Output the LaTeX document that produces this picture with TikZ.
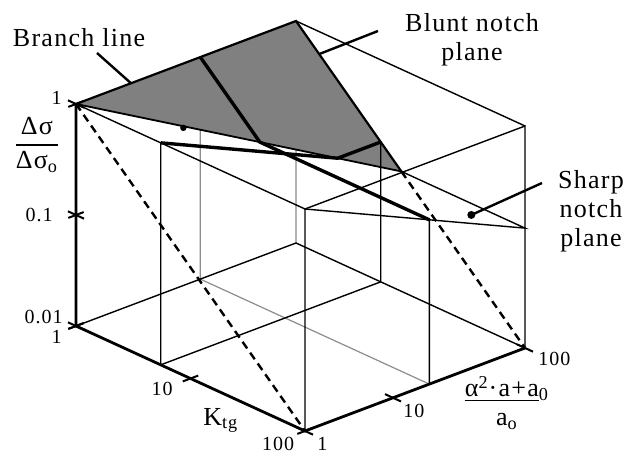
\documentclass[tikz,border=0pt]{standalone}
\usepackage{amsmath}
\usepackage{fontspec}
\setmainfont{Liberation Serif}[LetterSpace=5]
\usepackage{tikz}
\usetikzlibrary{calc}
\newcommand{\sharpk}{0.46}
\newcommand{\kcut}{0.74}
\newcommand{\acut}{1.13}

\begin{document}
\begin{tikzpicture}[
    x={(57.25pt,-26.25pt)}, y={(55pt,20.75pt)}, z={(0pt,55.5pt)},
    axis/.style={line width=1.4pt},
    edge/.style={line width=0.7pt},
    hidden/.style={line width=0.6pt, black!45},
    cut/.style={line width=1.7pt},
    diag/.style={line width=1.2pt, dash pattern=on 4pt off 2.6pt},
    axtick/.style={line width=1pt},
    lead/.style={line width=1.2pt},
    lbl/.style={inner sep=0pt, font=\fontsize{13}{14.5}\selectfont},
    num/.style={inner sep=0pt, font=\fontsize{10}{12}\selectfont},
]
\useasboundingbox (-38pt,-64pt) rectangle (274pt,163pt);

% Box corners
\coordinate (O) at (0,0,0);
\coordinate (P) at (2,0,0);
\coordinate (Q) at (2,2,0);
\coordinate (R) at (0,2,0);
\coordinate (A) at (0,0,2);
\coordinate (D) at (2,0,2);
\coordinate (F) at (2,2,2);
\coordinate (B) at (0,2,2);

% Sharp notch plane and branch point
\coordinate (E) at (2,2,{2-2*\sharpk});
\coordinate (C) at ({2*\sharpk},2,{2-2*\sharpk});

% Cut at constant a
\coordinate (a0) at (0,\acut,0);
\coordinate (a1) at (0,\acut,2);
\coordinate (a2) at ({\sharpk*\acut},\acut,{2-\sharpk*\acut});
\coordinate (a3) at (2,\acut,{2-\sharpk*\acut});
\coordinate (a4) at (2,\acut,0);

% Cut at constant K
\coordinate (k0) at (\kcut,0,0);
\coordinate (k1) at (\kcut,0,2);
\coordinate (k2) at (\kcut,{\kcut/\sharpk},{2-\kcut});
\coordinate (k3) at (\kcut,2,{2-\kcut});
\coordinate (k4) at (\kcut,2,0);

% Hidden lines
\draw[hidden] (R) -- (B) (a0) -- (a1) (a0) -- (a4);

% Blunt notch plane
\fill[black!50] (A) -- (B) -- (C) -- cycle;

% Box edges and sharp notch plane
\draw[edge] (O) -- (R) -- (Q) -- (F) -- (D) -- (A);
\draw[edge] (B) -- (F) (D) -- (P) (D) -- (E) -- (C);
\draw[edge] (k0) -- (k1) (k0) -- (k4) -- (k3) (a4) -- (a3);
\draw[line width=1.1pt] (A) -- (B) -- (C);
\draw[line width=0.9pt] (A) -- (C);

% Cuts
\draw[cut] (a1) -- (a2) -- (a3);
\draw[cut] (k1) -- (k2) -- (k3);

% Diagonals
\draw[diag] (A) -- (P) (C) -- (Q);

% Axes
\draw[axis] (A) -- (O) -- (P) -- (Q);
\foreach \sv in {0,1,2}
    \draw[axtick] (-0.07,0,\sv) -- (0.07,0,\sv) (0,-0.07,\sv) -- (0,0.07,\sv);
\foreach \kv in {0,1,2}
    \draw[axtick] (\kv,-0.07,0) -- (\kv,0.07,0);
\foreach \av in {0,0.8,2}
    \draw[axtick] (1.93,\av,0) -- (2.07,\av,0);

% Leaders
\coordinate (brEnd) at (10.5pt,136.5pt);
\coordinate (blEnd) at (151pt,147.5pt);
\coordinate (shEnd) at (233pt,71.5pt);
\coordinate (brDot) at ($(A)!0.33!(C)$);
\coordinate (shDot) at (1.8,1.72,{2-\sharpk*1.72});
\fill ([yshift=-0.8pt]brDot) circle (1.6pt);
\fill (shDot) circle (2pt);
\draw[lead] (brEnd) -- ($(A)!0.25!(B)$);
\draw[lead] (blEnd) -- ($(B)!0.22!(C)$);
\draw[lead] (shEnd) -- (shDot);

% Plane labels
\node[lbl, anchor=base] (brLab) at (1.5pt,139.5pt) {Branch line};
\node[lbl, align=center] (blLab) at (198pt,143pt) {Blunt notch\\plane};
\node[lbl, align=center] (shLab) at (257.5pt,57.25pt) {Sharp\\notch\\plane};

% Axis labels
\node[lbl] (dsLab) at (-19.5pt,90.5pt) {$\genfrac{}{}{1pt}{0}{\text{Δσ}}{\text{Δσ}_{\text{o}}}$};
\node[lbl, anchor=base west] (kLab) at (63.5pt,-49.5pt) {K\textsubscript{tg}};
\node[lbl, align=center] (aLab) at (215.5pt,-38.5pt) {\underline{α\textsuperscript{2}·a+a}\textsubscript{0}\\a\textsubscript{o}};

% Tick labels
\node[num, anchor=base east] (s2) at (-7pt,110.5pt) {1};
\node[num, anchor=base east] (s1) at (-11.5pt,52pt) {0.1};
\node[num, anchor=base east] (s0) at (-6.5pt,1.5pt) {0.01};
\node[num, anchor=base east] (k0Lab) at (-7pt,-8.5pt) {1};
\node[num, anchor=base] (k1Lab) at (43pt,-34.5pt) {10};
\node[num, anchor=base] (k2Lab) at (101pt,-62pt) {100};
\node[num, anchor=base west] (a0Lab) at (120.5pt,-62pt) {1};
\node[num, anchor=base west] (a1Lab) at (163.5pt,-45.5pt) {10};
\node[num, anchor=base west] (a2Lab) at (231pt,-19.5pt) {100};

\end{tikzpicture}
\end{document}
